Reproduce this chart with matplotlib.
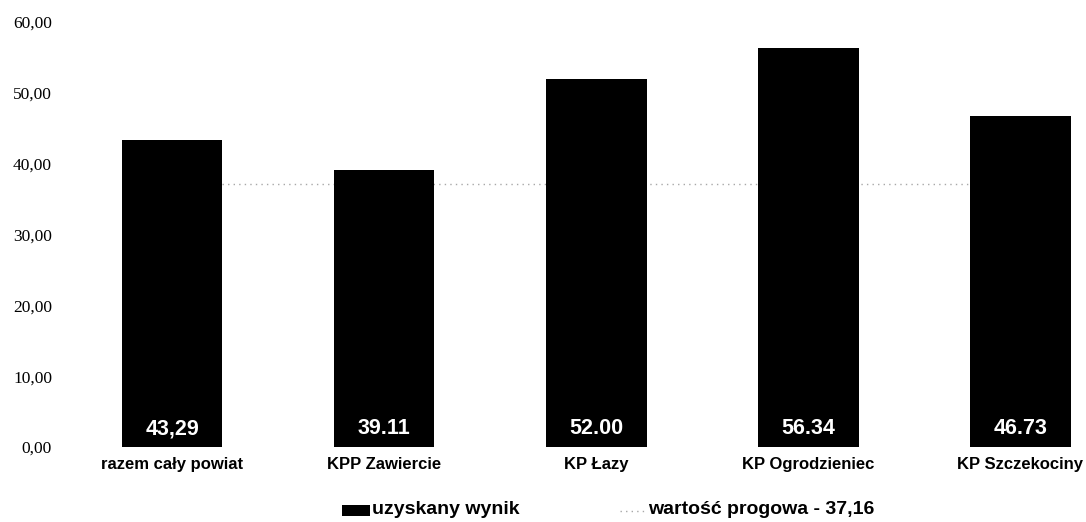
import matplotlib
matplotlib.use("Agg")
import matplotlib.pyplot as plt
from matplotlib.lines import Line2D
from matplotlib.patches import Rectangle

categories = ["razem cały powiat", "KPP Zawiercie", "KP Łazy", "KP Ogrodzieniec", "KP Szczekociny"]
values = [43.29, 39.11, 52.00, 56.34, 46.73]
value_labels = ["43,29", "39.11", "52.00", "56.34", "46.73"]
threshold = 37.16
yticks = [0, 10, 20, 30, 40, 50, 60]
ytick_labels = ["0,00", "10,00", "20,00", "30,00", "40,00", "50,00", "60,00"]
legend_bar = "uzyskany wynik"
legend_line = "wartość progowa - 37,16"

W, H = 1086, 522
fig = plt.figure(figsize=(W / 100, H / 100), dpi=100)
ax = fig.add_axes([66 / W, 75 / H, 1 - 66 / W, (447 - 22) / H])

line_color = "#a8a8a8"
line_style = (0, (1, 3))

x = list(range(len(categories)))
ax.bar(x, values, width=0.475, color="black", zorder=2)
ax.plot([x[0], x[-1]], [threshold, threshold], color=line_color, linestyle=line_style,
        linewidth=1.0, zorder=1)

for xi, lab in zip(x, value_labels):
    ax.text(xi, 2.6, lab, color="white", ha="center", va="center",
            fontsize=15.5, fontweight="bold", family="Liberation Sans", zorder=3)

ax.set_xlim(-0.5, 4.31)
ax.set_ylim(0, 60)
ax.set_yticks(yticks)
ax.set_yticklabels(ytick_labels, family="Liberation Serif", fontsize=12.5)
ax.set_xticks(x)
ax.set_xticklabels(categories, family="Liberation Sans", fontweight="bold", fontsize=12)
ax.tick_params(axis="both", length=0)
ax.tick_params(axis="y", pad=10)
ax.tick_params(axis="x", pad=7)
for s in ax.spines.values():
    s.set_visible(False)

# legend drawn in figure pixel coordinates
def fx(px):
    return px / W

def fy(py):
    return 1 - py / H

leg_y = 510
fig.patches.append(Rectangle((fx(342), fy(516)), fx(370) - fx(342), fy(505) - fy(516),
                             transform=fig.transFigure, facecolor="black", edgecolor="none"))
fig.text(fx(372), fy(leg_y), legend_bar, ha="left", va="center", family="Liberation Sans",
         fontweight="bold", fontsize=14)
fig.lines.append(Line2D([fx(620), fx(647)], [fy(leg_y + 1), fy(leg_y + 1)], transform=fig.transFigure,
                        color=line_color, linestyle=line_style, linewidth=1.0))
fig.text(fx(648), fy(leg_y), legend_line, ha="left", va="center", family="Liberation Sans",
         fontweight="bold", fontsize=14)

fig.savefig("out.png", dpi=100)
